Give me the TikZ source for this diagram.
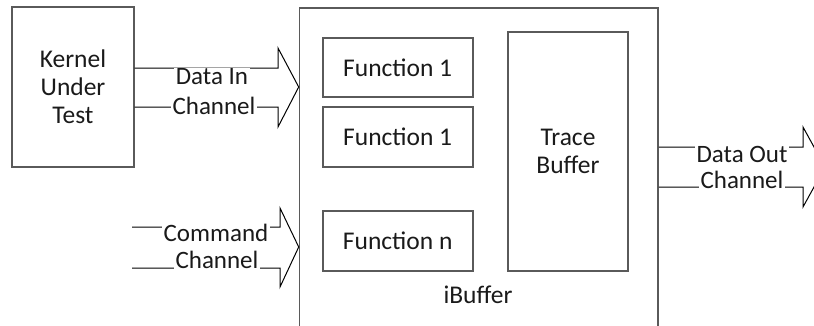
\documentclass[tikz,border=0pt]{standalone}
\usepackage{fontspec}
\setmainfont{Carlito}
\definecolor{boxgray}{HTML}{5A5A5A}
\definecolor{txt}{HTML}{1A1A1A}
\begin{document}
\begin{tikzpicture}[x=1pt,y=-1pt,
  box/.style={draw=boxgray, line width=1.6pt, inner sep=0pt, align=center,
    font=\fontsize{25.5}{28}\selectfont, text=txt},
  lbl/.style={font=\fontsize{25}{28}\selectfont, text=txt, fill=white, inner xsep=1.5pt, inner ysep=0pt},
  arr/.style={draw=black, line width=1pt, line join=miter}]
\useasboundingbox (0,0) rectangle (814,325);
\clip (0,0) rectangle (814,325);
% boxes
\node[box, minimum width=121.5pt, minimum height=160pt] (kernel) at (73,87) {Kernel\\Under\\Test};
\node[box, minimum width=358.5pt, minimum height=332pt] (ibuf) at (478.75,174) {};
\node[font=\fontsize{25.5}{28}\selectfont, text=txt] (ibuflbl) at (478,295) {iBuffer};
\node[box, minimum width=150pt, minimum height=59pt] (f1) at (397.7,67.5) {Function 1};
\node[box, minimum width=150pt, minimum height=60pt] (f2) at (397.7,137) {Function 1};
\node[box, minimum width=150pt, minimum height=60pt] (fn) at (397.7,241) {Function n};
\node[box, minimum width=120pt, minimum height=239pt] (trace) at (568,151.5) {Trace\\Buffer};
% Data In arrow
\coordinate (dinTip) at (ibuf.west |- kernel.east);
\draw[arr] (kernel.east |- 0,68) -- (278,68) -- (278,48) -- (dinTip)
  -- (278,127) -- (278,107) -- (kernel.east |- 0,107);
\node[lbl] (dinA) at (212,76.5) {Data In};
\node[lbl] (dinB) at (214,106) {Channel};
% Command arrow
\coordinate (cmdA) at (132,227);
\coordinate (cmdB) at (132,268);
\coordinate (cmdTip) at (ibuf.west |- 0,247);
\draw[arr] (cmdA) -- (280,227) -- (280,208) -- (cmdTip)
  -- (280,287) -- (280,268) -- (cmdB);
\node[lbl] (cmdL1) at (216,233) {Command};
\node[lbl] (cmdL2) at (217,260) {Channel};
% Data Out arrow
\coordinate (doutTip) at (825,167);
\draw[arr] (ibuf.east |- 0,147) -- (803,147) -- (803,127) -- (doutTip)
  -- (803,207) -- (803,187) -- (ibuf.east |- 0,187);
\node[lbl] (doutL1) at (742,154) {Data Out};
\node[lbl] (doutL2) at (742,180) {Channel};
\end{tikzpicture}
\end{document}
